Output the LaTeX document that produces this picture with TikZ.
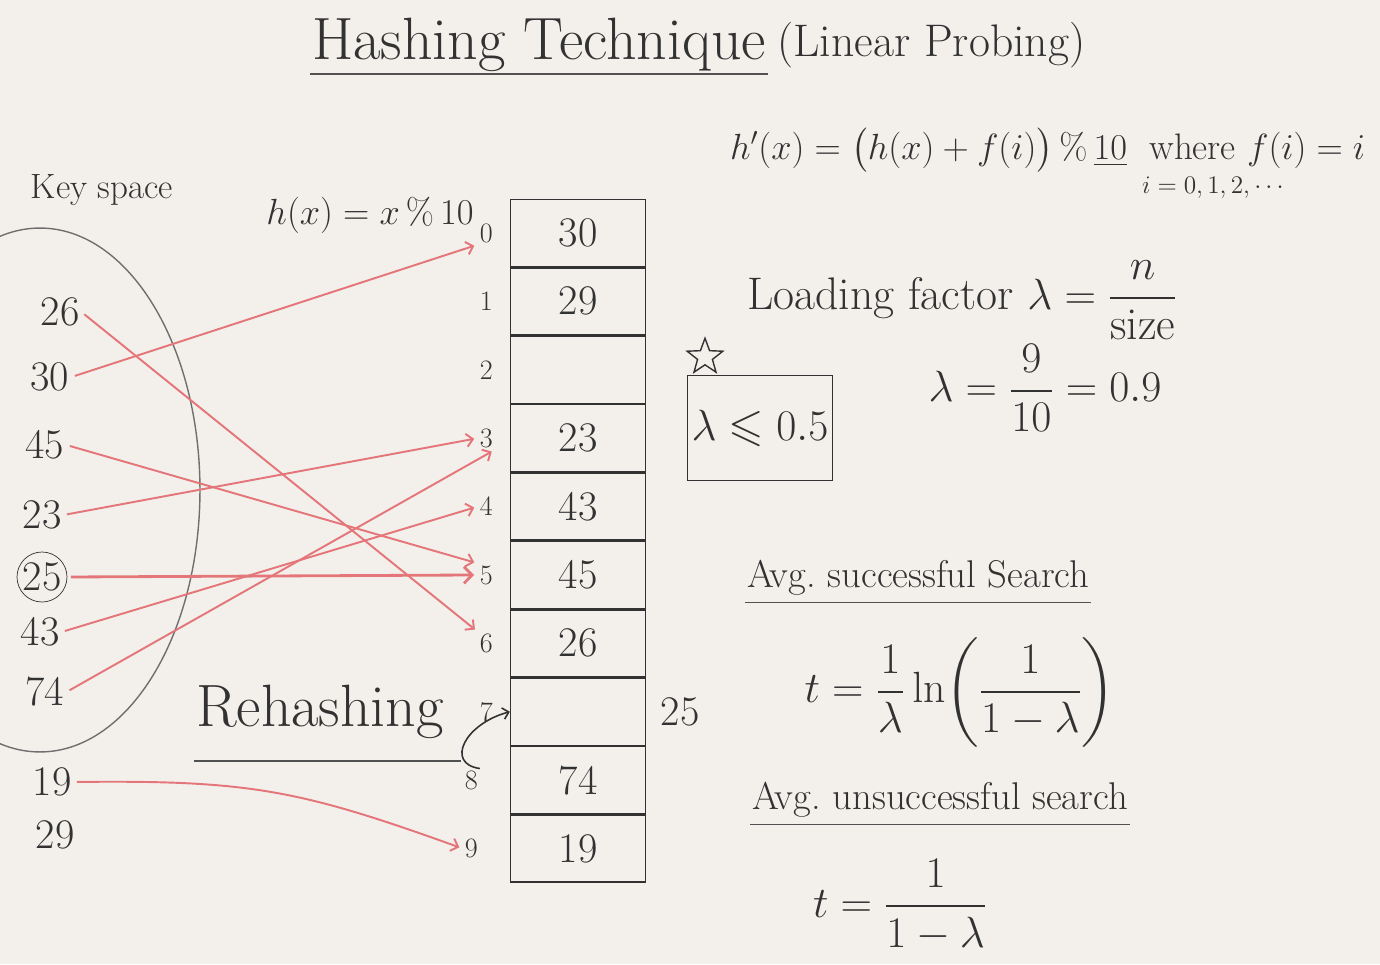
\documentclass[tikz,border=0pt]{standalone}
\usepackage{amsmath,amssymb}
\usepackage{tikz}
\usetikzlibrary{arrows.meta, positioning, shapes.geometric, calc}
\definecolor{boardbg}{RGB}{243,240,236}
\definecolor{markred}{RGB}{228,118,122}
\definecolor{markblack}{RGB}{50,50,50}

\begin{document}
\begin{tikzpicture}[
    x=0.02cm, y=-0.02cm,
    font=\fontsize{22}{26}\selectfont,
    >=Straight Barb,
    keynum/.style={inner sep=1pt, text=markblack, font=\fontsize{24}{26}\selectfont},
    slot/.style={draw=markblack, line width=0.8pt, minimum width=2.7cm, minimum height=1.34cm, inner sep=0pt, text=markblack, font=\fontsize{24}{26}\selectfont},
    slotidx/.style={inner sep=1pt, text=markblack, font=\fontsize{16}{18}\selectfont},
    hashto/.style={->, draw=markred, line width=1.1pt, shorten >=2pt, shorten <=2pt},
    probe/.style={->, draw=markblack, line width=0.9pt},
    note/.style={inner sep=1pt, text=markblack},
    rule/.style={draw=markblack!85, line width=0.8pt}
]

% Board
\fill[boardbg] (0,0) rectangle (1380,964);
\useasboundingbox (0,0) rectangle (1380,964);

% Title
\node[note, font=\fontsize{34}{38}\selectfont, anchor=west] (title) at (310,45) {Hashing Technique};
\node[note, font=\fontsize{26}{30}\selectfont, right=0.15cm of title] (subtitle) {(Linear Probing)};
\draw[rule] (title.south west) -- (title.south east);

% Probe function
\node[note, font=\fontsize{21}{24}\selectfont, anchor=west] (rehashfn) at (728,150) {$h'(x)=\bigl(h(x)+f(i)\bigr)\,\%\,\underline{10}$\ \ where $f(i)=i$};
\node[note, font=\fontsize{14}{16}\selectfont] (irange) at (1215,188) {$i=0,1,2,\cdots$};

% Key space
\node[note, font=\fontsize{20}{22}\selectfont] (keyspace) at (102,190) {Key space};
\node[note] (hashfn) at (370,215) {$h(x)=x\,\%\,10$};
\draw[markblack!70, line width=0.8pt] (40,490) ellipse [x radius=3.2cm, y radius=5.24cm];

\node[keynum] (k26) at (60,312) {26};
\node[keynum] (k30) at (50,377) {30};
\node[keynum] (k45) at (45,445) {45};
\node[keynum] (k23) at (42,515) {23};
\node[keynum, draw=markblack, circle, inner sep=0pt, minimum size=1.0cm] (k25) at (42,577) {25};
\node[keynum] (k43) at (40,632) {43};
\node[keynum] (k74) at (45,692) {74};
\node[keynum] (k19) at (52,782) {19};
\node[keynum] (k29) at (55,835) {29};

% Hash table
\node[slot] (c0) at (578,233) {30};
\node[slot, below=0pt of c0] (c1) {29};
\node[slot, below=0pt of c1] (c2) {};
\node[slot, below=0pt of c2] (c3) {23};
\node[slot, below=0pt of c3] (c4) {43};
\node[slot, below=0pt of c4] (c5) {45};
\node[slot, below=0pt of c5] (c6) {26};
\node[slot, below=0pt of c6] (c7) {};
\node[slot, below=0pt of c7] (c8) {74};
\node[slot, below=0pt of c8] (c9) {19};

\node[slotidx, left=0.3cm of c0] (i0) {0};
\node[slotidx, left=0.3cm of c1] (i1) {1};
\node[slotidx, left=0.3cm of c2] (i2) {2};
\node[slotidx, left=0.3cm of c3] (i3) {3};
\node[slotidx, left=0.3cm of c4] (i4) {4};
\node[slotidx, left=0.3cm of c5] (i5) {5};
\node[slotidx, left=0.3cm of c6] (i6) {6};
\node[slotidx, left=0.3cm of c7] (i7) {7};
\node[slotidx, left=0.6cm of c8] (i8) {8};
\node[slotidx, left=0.6cm of c9] (i9) {9};

\node[keynum, right=0.25cm of c7] (moved) {25};

% Hashing arrows
\draw[hashto] (k26.east) -- (i6.north west);
\draw[hashto] (k30.east) -- (i0.south west);
\draw[hashto] (k45.east) -- (i5.north west);
\draw[hashto] (k23.east) -- (i3.west);
\draw[hashto, line width=1.6pt] (k25.east) -- (i5.west);
\draw[hashto] (k43.east) -- (i4.west);
\draw[hashto] (k74.east) -- (i3.south east);
\draw[hashto] (k19.east) .. controls (250,780) and (300,790) .. (i9.west);

% Rehashing
\node[note, font=\fontsize{34}{38}\selectfont] (rehash) at (320,712) {Rehashing};
\draw[rule] ([yshift=-0.4cm]rehash.south west) -- ([yshift=-0.4cm,xshift=0.3cm]rehash.south east);
\draw[probe] (i8.north east) .. controls +(-35,-5) and +(-45,12) .. (c7.west);

% Loading factor
\node[note, font=\fontsize{26}{30}\selectfont, anchor=west] (load) at (745,300) {Loading factor $\lambda=\dfrac{n}{\text{size}}$};
\node[note, font=\fontsize{26}{30}\selectfont] (loadval) at (1045,388) {$\lambda=\dfrac{9}{10}=0.9$};
\node[star, star points=5, star point ratio=2.4, draw=markblack, line width=0.8pt, minimum size=0.75cm, inner sep=0pt] (mark) at (705,357) {};
\node[note, draw=markblack, line width=1pt, minimum width=2.9cm, minimum height=2.1cm, font=\fontsize{26}{30}\selectfont] (limit) at (760,428) {$\lambda\leqslant 0.5$};

% Search costs
\node[note, anchor=west] (succ) at (745,578) {Avg.\ successful Search};
\draw[rule] ([yshift=-0.1cm]succ.south west) -- ([yshift=-0.1cm]succ.south east);
\node[note, font=\fontsize{26}{30}\selectfont] (tsucc) at (960,692) {$t=\dfrac{1}{\lambda}\ln\biggl(\dfrac{1}{1-\lambda}\biggr)$};
\node[note, anchor=west] (unsucc) at (750,800) {Avg.\ unsuccessful search};
\draw[rule] ([yshift=-0.1cm]unsucc.south west) -- ([yshift=-0.1cm]unsucc.south east);
\node[note, font=\fontsize{26}{30}\selectfont] (tunsucc) at (900,905) {$t=\dfrac{1}{1-\lambda}$};

\end{tikzpicture}
\end{document}
